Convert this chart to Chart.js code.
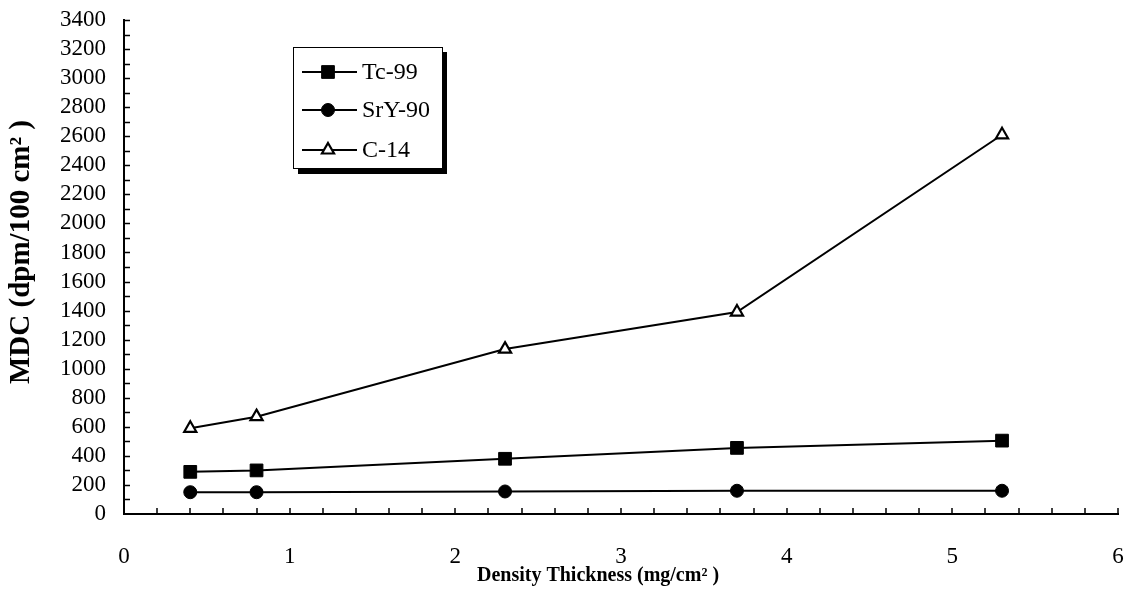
<!DOCTYPE html>
<html>
<head>
<meta charset="utf-8">
<script src="https://cdn.jsdelivr.net/npm/chart.js@4"></script>
<style>
  html, body { margin: 0; padding: 0; background: #fff; }
  #wrap { width: 1129px; height: 600px; }
</style>
</head>
<body>
<div id="wrap"><canvas id="c" width="1129" height="600"></canvas></div>
<script>
// ---- data ----
const thickness = [0.4, 0.8, 2.3, 3.7, 5.3];
const tc99  = [290, 300, 380, 455, 505];
const sry90 = [150, 150, 155, 160, 160];
const c14   = [590, 670, 1135, 1390, 2610];
const seriesNames = ['Tc-99', 'SrY-90', 'C-14'];
const xTitle = 'Density Thickness (mg/cm\u00B2 )';
const yTitle = 'MDC (dpm/100 cm\u00B2 )';

const SERIF = '"Liberation Serif", "Times New Roman", Times, serif';

function pts(vals) { return thickness.map((x, i) => ({ x: x, y: vals[i] })); }

const datasets = [
  { label: seriesNames[0], data: pts(tc99), pointStyle: 'rect', pointRadius: 9,
    pointBackgroundColor: '#000', pointBorderColor: '#000', pointBorderWidth: 1 },
  { label: seriesNames[1], data: pts(sry90), pointStyle: 'circle', pointRadius: 6.5,
    pointBackgroundColor: '#000', pointBorderColor: '#000', pointBorderWidth: 1 },
  { label: seriesNames[2], data: pts(c14), pointStyle: 'triangle', pointRadius: 7,
    pointBackgroundColor: '#fff', pointBorderColor: '#000', pointBorderWidth: 2.2 }
].map(d => Object.assign({ borderColor: '#000', borderWidth: 2, showLine: true,
  fill: false, tension: 0, pointHoverRadius: d.pointRadius }, d));

function drawMarker(ctx, ds, x, y) {
  ctx.save();
  ctx.fillStyle = ds.pointBackgroundColor;
  ctx.strokeStyle = ds.pointBorderColor;
  ctx.lineWidth = ds.pointBorderWidth;
  if (Chart.helpers && Chart.helpers.drawPoint) {
    Chart.helpers.drawPoint(ctx, { pointStyle: ds.pointStyle, rotation: 0,
      radius: ds.pointRadius, borderWidth: ds.pointBorderWidth }, x, y);
  } else {
    ctx.beginPath();
    ctx.arc(x, y, ds.pointRadius, 0, Math.PI * 2);
    ctx.fill(); ctx.stroke();
  }
  ctx.restore();
}

const decor = {
  id: 'decor',
  beforeDatasetsDraw(chart) {
    const ctx = chart.ctx;
    const xs = chart.scales.x, ys = chart.scales.y;
    const ca = chart.chartArea;
    ctx.save();
    ctx.strokeStyle = '#000';
    ctx.lineWidth = 1.5;
    ctx.beginPath();
    ys.ticks.forEach(t => {
      if (t.value <= 0) return;
      const p = Math.round(ys.getPixelForValue(t.value)) + 0.5;
      ctx.moveTo(ca.left, p); ctx.lineTo(ca.left + 6, p);
    });
    xs.ticks.forEach(t => {
      if (t.value <= 0) return;
      const p = Math.round(xs.getPixelForValue(t.value));
      ctx.moveTo(p, ca.bottom); ctx.lineTo(p, ca.bottom - 6);
    });
    ctx.stroke();
    ctx.restore();
  },
  afterDraw(chart) {
    const ctx = chart.ctx;
    ctx.save();
    ctx.fillStyle = '#000';
    // axis titles
    ctx.font = 'bold 20px ' + SERIF;
    ctx.textAlign = 'center';
    ctx.textBaseline = 'middle';
    ctx.fillText(xTitle, 598, 576);
    ctx.save();
    ctx.translate(22, 252);
    ctx.rotate(-Math.PI / 2);
    ctx.font = 'bold 29px ' + SERIF;
    ctx.fillText(yTitle, 0, 0);
    ctx.restore();

    // legend box with shadow
    const L = 293, T = 47, W = 149, H = 121, S = 5;
    ctx.fillStyle = '#000';
    ctx.fillRect(L + S, T + S, W, H + 1);
    ctx.fillStyle = '#fff';
    ctx.fillRect(L, T, W, H);
    ctx.strokeStyle = '#000';
    ctx.lineWidth = 1;
    ctx.strokeRect(L + 0.5, T + 0.5, W, H);
    const rowsY = [72, 110, 150];
    chart.data.datasets.forEach((ds, i) => {
      const y = rowsY[i];
      ctx.strokeStyle = '#000';
      ctx.lineWidth = 2;
      ctx.beginPath();
      ctx.moveTo(302, y); ctx.lineTo(357, y);
      ctx.stroke();
      drawMarker(ctx, ds, 328, y);
      ctx.fillStyle = '#000';
      ctx.font = '24px ' + SERIF;
      ctx.textAlign = 'left';
      ctx.textBaseline = 'middle';
      ctx.fillText(ds.label, 362, y + 1);
    });
    ctx.restore();
  }
};

new Chart(document.getElementById('c'), {
  type: 'scatter',
  data: { datasets: datasets },
  plugins: [decor],
  options: {
    responsive: false,
    animation: false,
    devicePixelRatio: 1,
    layout: { padding: { left: 0, top: 20, right: 11, bottom: 0 } },
    plugins: { legend: { display: false }, tooltip: { enabled: false } },
    scales: {
      x: {
        type: 'linear', min: 0, max: 6,
        afterFit(s) { s.height = 86; },
        grid: { display: false, drawTicks: true, tickLength: 24 },
        border: { display: true, color: '#000', width: 2 },
        ticks: {
          stepSize: 0.2, color: '#000', padding: 5, maxRotation: 0, autoSkip: false,
          font: { family: SERIF, size: 23 },
          callback(v) { return Math.abs(v - Math.round(v)) < 1e-6 ? String(Math.round(v)) : ''; }
        }
      },
      y: {
        type: 'linear', min: 0, max: 3400,
        afterFit(s) { s.width = 124; },
        grid: { display: false, drawTicks: true, tickLength: 13 },
        border: { display: true, color: '#000', width: 2 },
        ticks: {
          stepSize: 100, color: '#000', padding: 5, autoSkip: false,
          font: { family: SERIF, size: 23 },
          callback(v) { return (Math.round(v) % 200 === 0) ? String(Math.round(v)) : ''; }
        }
      }
    }
  }
});
</script>
</body>
</html>
